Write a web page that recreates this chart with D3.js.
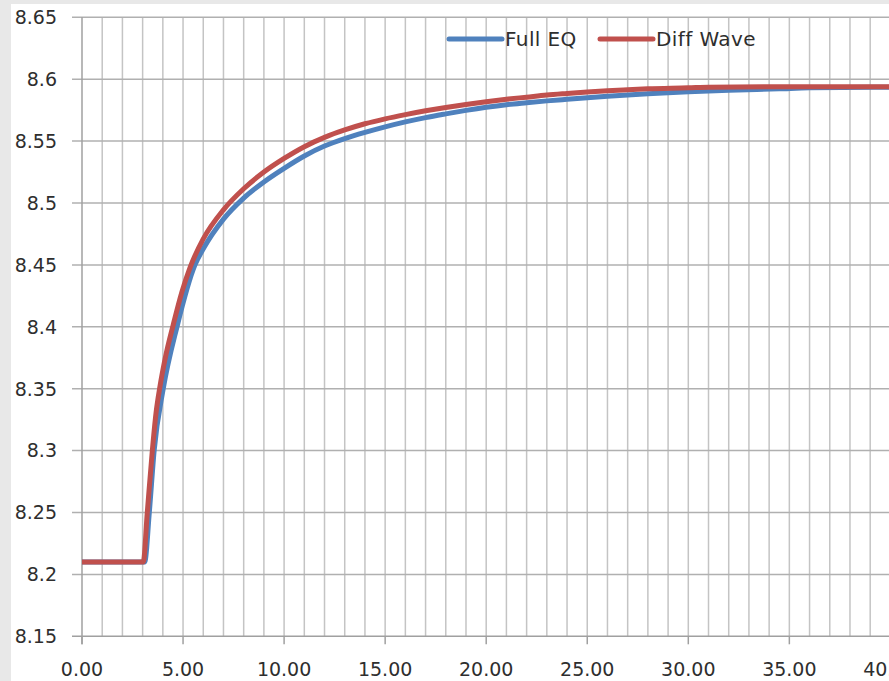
<!DOCTYPE html>
<html>
<head>
<meta charset="utf-8">
<script src="https://cdn.jsdelivr.net/npm/d3@7"></script>
<style>
  html, body { margin: 0; padding: 0; background: #e8e8e8; }
  svg { display: block; }
  text { font-family: "DejaVu Sans", Verdana, sans-serif; fill: #2e2e2e; }
</style>
</head>
<body>
<svg id="chart" width="889" height="681"></svg>
<script>
// Time axis (x) and response (y) for both model runs
const fullEqT = [0, 3.1, 3.33, 3.57, 4.02, 4.7, 5.59, 6, 7, 8, 9, 10, 11, 12, 13, 14, 15, 16, 17, 18, 19, 20, 21, 22, 23, 24, 26, 28, 30, 32, 34.5, 36, 40, 44];
const fullEqV = [8.21, 8.21, 8.25, 8.30, 8.35, 8.40, 8.45, 8.463, 8.487, 8.504, 8.517, 8.528, 8.538, 8.546, 8.552, 8.557, 8.5615, 8.5655, 8.569, 8.572, 8.5748, 8.5773, 8.5794, 8.581, 8.5825, 8.5838, 8.5862, 8.5882, 8.5898, 8.5911, 8.5922, 8.593, 8.5935, 8.5935];

const diffWaveT = [0, 3.03, 3.23, 3.48, 3.66, 3.86, 4.11, 4.52, 4.94, 5.35, 6, 7, 8, 9, 10, 11, 12, 13, 14, 15, 16, 17, 18, 19, 20, 21, 22, 23, 24, 25, 26, 27, 28, 30, 31, 35, 40, 44];
const diffWaveV = [8.21, 8.21, 8.25, 8.30, 8.33, 8.352, 8.374, 8.402, 8.428, 8.448, 8.471, 8.4945, 8.5115, 8.525, 8.536, 8.5455, 8.553, 8.559, 8.564, 8.568, 8.5714, 8.5745, 8.5772, 8.5796, 8.5818, 8.5838, 8.5855, 8.5872, 8.5885, 8.5897, 8.5907, 8.5915, 8.5922, 8.593, 8.5935, 8.594, 8.594, 8.594];

const seriesNames = ["Full EQ", "Diff Wave"];
const seriesColors = ["#4f81bd", "#c0504d"];

const yTickValues = [8.15, 8.2, 8.25, 8.3, 8.35, 8.4, 8.45, 8.5, 8.55, 8.6, 8.65];
const yTickLabels = ["8.15", "8.2", "8.25", "8.3", "8.35", "8.4", "8.45", "8.5", "8.55", "8.6", "8.65"];
const xTickValues = [0, 5, 10, 15, 20, 25, 30, 35, 40];
const xTickLabels = ["0.00", "5.00", "10.00", "15.00", "20.00", "25.00", "30.00", "35.00", "40.00"];
const xGridValues = d3.range(0, 45, 1);

const svg = d3.select("#chart");
const W = 889, H = 681;
const plotLeft = 82, plotTop = 17.3, plotBottom = 636.3;
const pxPerUnit = 20.21;

// white chart panel on the grey page
svg.append("rect").attr("x", 11).attr("y", 4).attr("width", W - 11).attr("height", H - 4).attr("fill", "#ffffff");

const x = d3.scaleLinear().domain([0, 44]).range([plotLeft, plotLeft + 44 * pxPerUnit]);
const y = d3.scaleLinear().domain([8.15, 8.65]).range([plotBottom, plotTop]);

svg.append("clipPath").attr("id", "plotclip")
  .append("rect").attr("x", plotLeft).attr("y", 0).attr("width", W - plotLeft).attr("height", H);

// vertical gridlines every unit
svg.append("g").selectAll("line").data(xGridValues.filter(v => v > 0)).join("line")
  .attr("x1", d => x(d)).attr("x2", d => x(d))
  .attr("y1", y(8.65)).attr("y2", y(8.15))
  .attr("stroke", "#c4c4c4").attr("stroke-width", 1.5);

// horizontal gridlines (extend left as tick marks)
svg.append("g").selectAll("line").data(yTickValues).join("line")
  .attr("x1", plotLeft - 10).attr("x2", W)
  .attr("y1", d => y(d)).attr("y2", d => y(d))
  .attr("stroke", d => d === 8.15 ? "#a0a0a0" : "#b0b0b0").attr("stroke-width", 1.5);

// y axis line
svg.append("line").attr("x1", plotLeft).attr("x2", plotLeft).attr("y1", y(8.65)).attr("y2", y(8.15) + 8)
  .attr("stroke", "#a0a0a0").attr("stroke-width", 1.5);

// x axis ticks
svg.append("g").selectAll("line").data(xTickValues).join("line")
  .attr("x1", d => x(d)).attr("x2", d => x(d))
  .attr("y1", y(8.15)).attr("y2", y(8.15) + 8)
  .attr("stroke", "#a0a0a0").attr("stroke-width", 1.5);

// y tick labels
svg.append("g").selectAll("text").data(yTickValues).join("text")
  .attr("x", 57).attr("y", d => y(d)).attr("dy", "0.36em")
  .attr("text-anchor", "end").attr("font-size", 19)
  .text((d, i) => yTickLabels[i]);

// x tick labels
svg.append("g").selectAll("text").data(xTickValues).join("text")
  .attr("x", d => x(d)).attr("y", 675.5)
  .attr("text-anchor", "middle").attr("font-size", 19)
  .text((d, i) => xTickLabels[i]);

const line = d3.line().x(d => x(d[0])).y(d => y(d[1])).curve(d3.curveMonotoneX);
const series = [
  d3.zip(fullEqT, fullEqV),
  d3.zip(diffWaveT, diffWaveV)
];

svg.append("g").attr("clip-path", "url(#plotclip)").selectAll("path").data(series).join("path")
  .attr("d", line)
  .attr("fill", "none")
  .attr("stroke", (d, i) => seriesColors[i])
  .attr("stroke-width", 5)
  .attr("stroke-linejoin", "round");

// legend, drawn straight over the gridlines
const legendX = [449, 600];
const legend = svg.append("g");
seriesNames.forEach((name, i) => {
  legend.append("line")
    .attr("x1", legendX[i]).attr("x2", legendX[i] + 53)
    .attr("y1", 39).attr("y2", 39)
    .attr("stroke", seriesColors[i]).attr("stroke-width", 5).attr("stroke-linecap", "round");
  legend.append("text")
    .attr("x", legendX[i] + 56).attr("y", 45.5)
    .attr("font-size", 20).attr("letter-spacing", 0.4)
    .text(name);
});
</script>
</body>
</html>
